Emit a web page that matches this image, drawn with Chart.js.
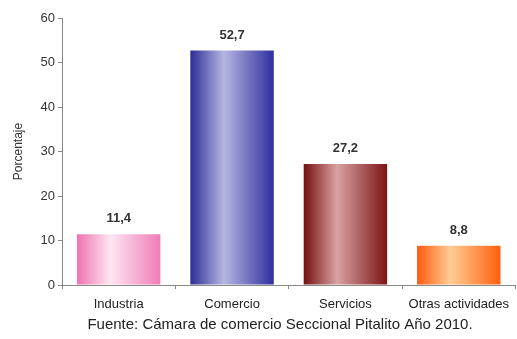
<!DOCTYPE html>
<html>
<head>
<meta charset="utf-8">
<script src="https://cdn.jsdelivr.net/npm/chart.js@4/dist/chart.umd.min.js"></script>
<style>
  html, body { margin: 0; padding: 0; background: #fff; }
  #wrap { width: 517px; height: 339px; position: relative; }
</style>
</head>
<body>
<div id="wrap"><canvas id="chart"></canvas></div>
<script>
// Distribución por sector económico
const categories = ['Industria', 'Comercio', 'Servicios', 'Otras actividades'];
const values = [11.4, 52.7, 27.2, 8.8];
const yTicks = [0, 10, 20, 30, 40, 50, 60];
const sourceNote = 'Fuente: Cámara de comercio Seccional Pitalito Año 2010.';

// edge / centre / edge colours for each bar's shading
const barShades = [
  ['#ef72b0', '#fde6f2', '#f07cb6'],
  ['#2c2c94', '#b6b6e2', '#2f2f9e'],
  ['#761010', '#d9a2a2', '#7c1414'],
  ['#ff5a0e', '#ffcc94', '#ff600f'],
];

const CAT_PCT = 0.8;
const BAR_PCT = 0.92;
const FONT_FAMILY = '"Liberation Sans", Arial, sans-serif';

function barFill(c) {
  const chart = c.chart;
  const x = chart.scales.x;
  const shade = barShades[c.dataIndex];
  if (!chart.chartArea || !x) return shade[0];
  const cx = x.getPixelForValue(c.dataIndex);
  const w = x.width / categories.length * CAT_PCT * BAR_PCT;
  const g = chart.ctx.createLinearGradient(cx - w / 2, 0, cx + w / 2, 0);
  g.addColorStop(0, shade[0]);
  g.addColorStop(0.4, shade[1]);
  g.addColorStop(1, shade[2]);
  return g;
}

// value labels above the bars
const valueLabels = {
  id: 'valueLabels',
  afterDatasetsDraw(chart) {
    const ctx = chart.ctx;
    const meta = chart.getDatasetMeta(0);
    ctx.save();
    ctx.font = 'bold 13px ' + FONT_FAMILY;
    ctx.fillStyle = '#333';
    ctx.textAlign = 'center';
    ctx.textBaseline = 'bottom';
    meta.data.forEach((bar, i) => {
      ctx.fillText(values[i].toFixed(1).replace('.', ','), bar.x, bar.y - 9);
    });
    ctx.restore();
  }
};

// source line under the axis
const footNote = {
  id: 'footNote',
  afterDraw(chart) {
    const ctx = chart.ctx;
    ctx.save();
    ctx.font = '15px ' + FONT_FAMILY;
    ctx.fillStyle = '#222';
    ctx.textAlign = 'center';
    ctx.textBaseline = 'middle';
    ctx.fillText(sourceNote, 280, chart.height - 14);
    ctx.restore();
  }
};

const font = { family: FONT_FAMILY, size: 13 };

new Chart(document.getElementById('chart'), {
  type: 'bar',
  data: {
    labels: categories,
    datasets: [{
      data: values,
      backgroundColor: barFill,
      borderWidth: 0,
      categoryPercentage: CAT_PCT,
      barPercentage: BAR_PCT,
    }],
  },
  options: {
    responsive: true,
    maintainAspectRatio: false,
    animation: false,
    layout: { padding: { top: 18, left: 0, right: 0, bottom: 25 } },
    scales: {
      x: {
        grid: { drawOnChartArea: false, color: '#888', tickLength: 4, offset: true },
        border: { color: '#888' },
        ticks: { color: '#222', font, padding: 8, maxRotation: 0 },
        afterFit: (s) => { s.height = 29; },
      },
      y: {
        min: 0,
        max: 60,
        afterBuildTicks: (s) => { s.ticks = yTicks.map(v => ({ value: v })); },
        grid: { drawOnChartArea: false, color: '#888', tickLength: 4 },
        border: { color: '#888' },
        ticks: { color: '#333', font, padding: 3 },
        title: { display: true, text: 'Porcentaje', color: '#333', font: { ...font, size: 12 }, padding: { top: 11, bottom: 0 } },
        afterFit: (s) => { s.width = 62; },
      },
    },
    plugins: {
      legend: { display: false },
      tooltip: { enabled: false },
    },
  },
  plugins: [valueLabels, footNote],
});
</script>
</body>
</html>
